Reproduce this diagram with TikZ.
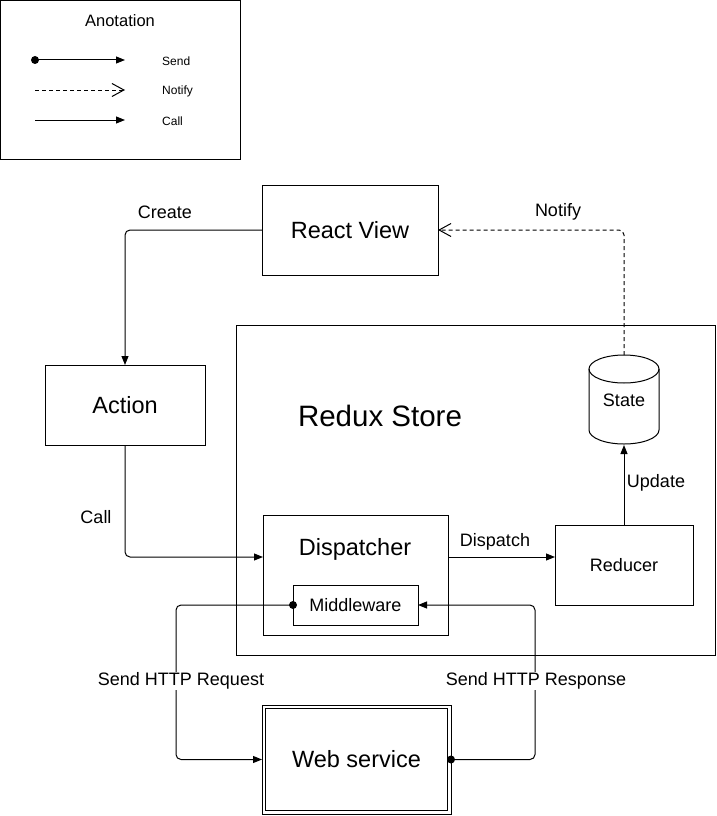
\documentclass[tikz,border=0pt]{standalone}
\usepackage{fontspec}
\setmainfont{Liberation Sans}
\usetikzlibrary{arrows.meta,calc}
\tikzset{
  box/.style={draw, line width=1pt, inner sep=0pt, outer sep=0pt, font=\fontsize{23.5}{27}\selectfont},
  plain/.style={inner sep=0pt, outer sep=0pt},
  lbl/.style={inner sep=1pt, font=\fontsize{18}{21}\selectfont},
  smalllbl/.style={inner sep=0pt, anchor=west, font=\fontsize{12}{14}\selectfont},
  call/.style={line width=1pt, rounded corners=5pt, -{Triangle[length=9pt,width=7pt]}},
  notify/.style={line width=1pt, rounded corners=5pt, dash pattern=on 4pt off 3pt, -{Straight Barb[length=12pt,width=13pt,line width=1pt]}},
}
\begin{document}
\begin{tikzpicture}[x=1pt,y=1pt,yscale=-1]
\useasboundingbox (0,0) rectangle (716,816);
% Annotation
\node[box, minimum width=240pt, minimum height=159pt] (anno) at (120.5,80) {};
\node[plain, font=\fontsize{16.5}{20}\selectfont] (annotitle) at (120,21) {Anotation};
\coordinate (s1) at (35,60); \coordinate (s2) at (125,60);
\coordinate (n1) at (35,90); \coordinate (n2) at (125,90);
\coordinate (c1) at (35,120); \coordinate (c2) at (125,120);
\draw[call] (s1) -- (s2);
\fill (s1) circle (4);
\draw[notify] (n1) -- (n2);
\draw[call] (c1) -- (c2);
\node[smalllbl] (tsend) at (162,61) {Send};
\node[smalllbl] (tnotify) at (162,91) {Notify};
\node[smalllbl] (tcall) at (162,121) {Call};
% Boxes
\node[box, minimum width=176pt, minimum height=90pt] (rv) at (350,230) {React View};
\node[box, minimum width=160pt, minimum height=80pt] (act) at (125,405) {Action};
\node[box, minimum width=479pt, minimum height=330pt] (store) at (475.5,490) {};
\node[plain, font=\fontsize{29.5}{34}\selectfont] (storetxt) at (380,416) {Redux Store};
\node[box, minimum width=185pt, minimum height=120pt] (disp) at (355.5,575) {};
\node[plain, font=\fontsize{23.5}{27}\selectfont] (disptxt) at (355,549) {Dispatcher};
\node[box, minimum width=125pt, minimum height=40pt, font=\fontsize{18}{21}\selectfont] (mw) at (355.5,605) {Middleware};
\node[box, minimum width=138pt, minimum height=80pt, font=\fontsize{18}{21}\selectfont] (red) at (624,565) {Reducer};
% State cylinder
\node[plain, minimum width=70pt, minimum height=90pt, font=\fontsize{18}{21}\selectfont] (state) at (624,400) {State};
\draw[line width=1pt] (624,369) ellipse [x radius=35, y radius=14];
\draw[line width=1pt] (589,369) -- (589,430) arc[start angle=180, end angle=0, x radius=35, y radius=14] -- (659,369);
% Web service
\node[box, minimum width=189pt, minimum height=109pt] (ws) at (356.5,759.5) {Web service};
\draw[line width=1pt] ($(ws.north west)+(3.5,3.5)$) rectangle ($(ws.south east)+(-3.5,-3.5)$);
% Connectors
\draw[call] (rv.west) -| (act.north);
\draw[notify] (state.north) |- (rv.east);
\draw[call] (act.south) |- ($(disp.west)+(0,-18)$);
\draw[call] ($(disp.east)+(0,-18)$) -- ($(red.west)+(0,-8)$);
\draw[call] (red.north) -- (state.south);
\draw[call] (mw.west) -- ++(-117,0) |- (ws.west);
\fill (mw.west) circle (4);
\draw[call] (ws.east) -- ++(84,0) |- (mw.east);
\fill (ws.east) circle (4);
% Labels
\node[lbl] (lcreate) at (165,212) {Create};
\node[lbl] (lnotify) at (558,212) {Notify};
\node[lbl] (lcall) at (96,517) {Call};
\node[lbl] (ldispatch) at (495,541.5) {Dispatch};
\node[lbl] (lupdate) at (656,483) {Update};
\node[lbl, fill=white] (lreq) at (181,681) {Send HTTP Request};
\node[lbl, fill=white] (lresp) at (536,681) {Send HTTP Response};
\end{tikzpicture}
\end{document}
